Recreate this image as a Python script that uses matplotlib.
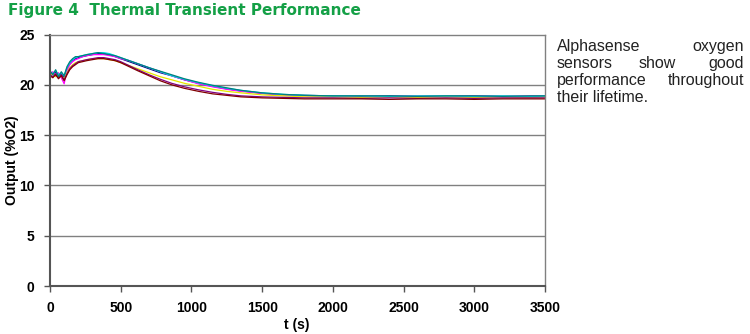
import numpy as np
import matplotlib
matplotlib.use("Agg")
import matplotlib.pyplot as plt

# time points (s)
t = [0, 20, 40, 60, 80, 100, 120, 140, 160, 180, 200, 230, 260, 300, 340, 380,
     420, 460, 500, 560, 620, 700, 780, 860, 950, 1050, 1150, 1250, 1350, 1500,
     1650, 1800, 2000, 2200, 2400, 2600, 2800, 3000, 3200, 3400, 3500]

# sensor outputs (%O2), one list per sensor
navy = [21.2, 21.0, 21.3, 20.9, 21.1, 20.8, 21.6, 22.1, 22.4, 22.6, 22.7, 22.8, 22.9, 23.0, 23.1, 23.1,
        23.0, 22.8, 22.6, 22.3, 22.0, 21.6, 21.2, 20.9, 20.5, 20.15, 19.85, 19.6, 19.4, 19.15,
        19.0, 18.95, 18.9, 18.85, 18.9, 18.85, 18.85, 18.9, 18.85, 18.85, 18.85]
magenta = [21.0, 21.3, 20.9, 21.2, 20.7, 20.1, 21.4, 22.0, 22.3, 22.5, 22.6, 22.8, 22.9, 23.0, 23.0, 23.0,
           22.9, 22.8, 22.6, 22.4, 22.1, 21.7, 21.3, 20.9, 20.5, 20.1, 19.8, 19.55, 19.35, 19.15,
           19.0, 18.9, 18.85, 18.9, 18.85, 18.9, 18.85, 18.9, 18.85, 18.9, 18.9]
yellow = [20.9, 21.1, 20.8, 21.0, 20.9, 20.6, 21.2, 21.7, 22.0, 22.2, 22.3, 22.4, 22.5, 22.6, 22.6, 22.6,
          22.5, 22.4, 22.2, 21.9, 21.6, 21.2, 20.8, 20.5, 20.15, 19.85, 19.55, 19.35, 19.2, 19.0,
          18.9, 18.8, 18.8, 18.75, 18.8, 18.75, 18.8, 18.75, 18.8, 18.75, 18.8]
cyan = [21.3, 21.1, 21.4, 21.0, 21.2, 20.9, 21.7, 22.2, 22.5, 22.7, 22.8, 22.9, 23.0, 23.1, 23.2, 23.2,
        23.1, 22.9, 22.7, 22.4, 22.1, 21.7, 21.3, 20.9, 20.55, 20.2, 19.9, 19.65, 19.45, 19.2,
        19.05, 18.95, 18.9, 18.9, 18.85, 18.9, 18.9, 18.85, 18.9, 18.85, 18.9]
purple = [21.0, 20.8, 21.1, 20.7, 21.0, 20.5, 21.1, 21.6, 21.9, 22.1, 22.3, 22.4, 22.5, 22.6, 22.7, 22.7,
          22.6, 22.5, 22.3, 21.9, 21.5, 21.0, 20.55, 20.15, 19.8, 19.5, 19.25, 19.05, 18.9, 18.8,
          18.75, 18.7, 18.7, 18.65, 18.7, 18.65, 18.7, 18.65, 18.7, 18.7, 18.7]
maroon = [20.9, 20.7, 21.0, 20.6, 20.9, 20.4, 21.0, 21.5, 21.8, 22.0, 22.2, 22.3, 22.4, 22.5, 22.6, 22.6,
          22.5, 22.4, 22.2, 21.8, 21.4, 20.9, 20.4, 20.0, 19.65, 19.35, 19.1, 18.95, 18.8, 18.7,
          18.65, 18.6, 18.6, 18.6, 18.55, 18.6, 18.6, 18.55, 18.6, 18.6, 18.6]
teal = [21.4, 21.0, 21.5, 20.8, 21.3, 20.9, 21.8, 22.3, 22.6, 22.8, 22.8, 22.9, 23.0, 23.1, 23.2, 23.1,
        23.0, 22.9, 22.7, 22.4, 22.1, 21.7, 21.35, 21.0, 20.6, 20.25, 19.95, 19.7, 19.45, 19.2,
        19.05, 18.95, 18.9, 18.9, 18.9, 18.85, 18.9, 18.9, 18.85, 18.9, 18.9]

series = [(navy, "#000080"), (magenta, "#ff00ff"), (yellow, "#e6e600"), (cyan, "#00e0e0"),
          (purple, "#800080"), (teal, "#008080"), (maroon, "#800000")]

x_ticks = [0, 500, 1000, 1500, 2000, 2500, 3000, 3500]
y_ticks = [0, 5, 10, 15, 20, 25]

W, H = 750, 334
fig = plt.figure(figsize=(7.5, 3.34), dpi=100)
ax = fig.add_axes([50 / W, 1 - 286 / H, 495 / W, (286 - 34.5) / H])

for grid_y in y_ticks[1:-1]:
    ax.axhline(grid_y, color="#808080", lw=1.0, zorder=1)

for vals, col in series:
    ax.plot(t, vals, color=col, lw=0.9, zorder=2)

ax.set_xlim(0, 3500)
ax.set_ylim(0, 25)
ax.set_xticks(x_ticks)
ax.set_yticks(y_ticks)
for s in ax.spines.values():
    s.set_color("#808080")
    s.set_linewidth(1.0)
ax.spines["left"].set_color("#555555")
ax.spines["bottom"].set_color("#555555")
ax.spines["left"].set_linewidth(1.5)
ax.spines["bottom"].set_linewidth(1.5)
ax.tick_params(direction="out", length=4, width=1, color="#555555", pad=7)
for lab in ax.get_xticklabels() + ax.get_yticklabels():
    lab.set_fontfamily("Liberation Sans")
    lab.set_fontweight("bold")
    lab.set_fontsize(10)

fig.text(12 / W, 1 - 160 / H, "Output (%O2)", rotation=90, ha="center", va="center",
         fontfamily="Liberation Sans", fontweight="bold", fontsize=10)
fig.text(297 / W, 1 - 325 / H, "t (s)", ha="center", va="center",
         fontfamily="Liberation Sans", fontweight="bold", fontsize=10)

fig.text(8 / W, 1 - 11 / H, "Figure 4  Thermal Transient Performance", ha="left", va="center",
         fontfamily="DejaVu Sans", fontweight="bold", fontsize=11, color="#14a046")

# justified side note, words placed on common baselines
note_kw = dict(fontfamily="Liberation Sans", fontsize=11.5, color="#222222", va="baseline")
x0, x1 = 557 / W, 744 / W
rows = [
    (51, [("Alphasense", x0, "left"), ("oxygen", x1, "right")]),
    (68, [("sensors", x0, "left"), ("show", 657 / W, "center"), ("good", x1, "right")]),
    (85, [("performance", x0, "left"), ("throughout", x1, "right")]),
    (102, [("their lifetime.", x0, "left")]),
]
for y, words in rows:
    for word, x, ha in words:
        fig.text(x, 1 - y / H, word, ha=ha, **note_kw)

fig.savefig("out.png", dpi=100)
